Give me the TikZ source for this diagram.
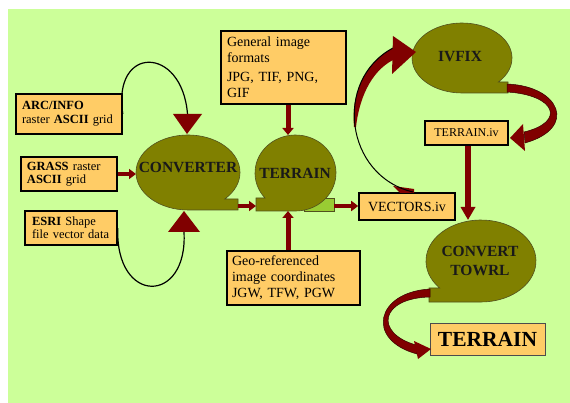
\documentclass[tikz,border=0pt]{standalone}
\usepackage{fontspec}
\setmainfont{Liberation Serif}
\usetikzlibrary{arrows.meta}
\definecolor{bggreen}{RGB}{204,255,153}
\definecolor{boxfill}{RGB}{255,204,102}
\definecolor{olivefill}{RGB}{128,128,0}
\definecolor{darkred}{RGB}{128,0,0}
\definecolor{tailgreen}{RGB}{153,204,51}
\definecolor{oliveline}{RGB}{80,80,30}
\begin{document}
\begin{tikzpicture}[x=1pt,y=-1pt,
 box/.style={draw=black, line width=1.6pt, fill=boxfill, rectangle, inner ysep=0pt, align=left},
 cbox/.style={draw=black, line width=1.6pt, fill=boxfill, rectangle, inner sep=0pt, align=center},
 blob/.style={fill=olivefill, draw=oliveline, line width=0.6pt},
 bloblabel/.style={font=\fontsize{15.5}{18}\selectfont\bfseries, text=black!90, inner sep=0pt},
 fat/.style={draw=darkred, line width=4pt, -{Triangle[width=10pt,length=7pt]}},
 looparc/.style={draw=black, line width=1.2pt},
 band/.style={fill=darkred, draw=black!60!darkred, line width=0.5pt},
 headtri/.style={fill=darkred}]
\useasboundingbox (0,0) rectangle (570,403);
\fill[white] (0,0) rectangle (570,403);
\fill[bggreen] (8,9) rectangle (570,403);

% boxes
\node[box, text width=94pt, inner xsep=6pt, minimum height=40pt, font=\fontsize{12.5}{14}\selectfont] (arc) at (69,114) {\textbf{ARC/INFO}\\raster \textbf{ASCII} grid};
\node[box, text width=84pt, inner xsep=6pt, minimum height=34pt, font=\fontsize{12.5}{13}\selectfont] (grass) at (69,174) {\textbf{GRASS} raster\\\textbf{ASCII} grid};
\node[box, text width=78pt, inner xsep=7pt, minimum height=34pt, font=\fontsize{12.5}{13}\selectfont] (esri) at (71,228) {\textbf{ESRI} Shape\\file vector data};
\node[box, text width=113pt, inner xsep=6pt, minimum height=73pt, font=\fontsize{14}{16}\selectfont] (gen) at (283.5,67.5) {General image\\formats\\[3pt]JPG, TIF, PNG,\\GIF};
\node[box, text width=123pt, inner xsep=5pt, minimum height=54pt, font=\fontsize{14}{16}\selectfont] (geo) at (293.5,278) {Geo-referenced\\image coordinates\\JGW, TFW, PGW};
\node[cbox, minimum width=96pt, minimum height=27pt, font=\fontsize{14}{16}\selectfont] (vec) at (407,206.5) {VECTORS.iv};
\node[cbox, minimum width=83pt, minimum height=24pt, font=\fontsize{12}{14}\selectfont] (tiv) at (466.5,133) {TERRAIN.iv};
\node[cbox, draw=black!70, line width=0.8pt, minimum width=115pt, minimum height=32pt, font=\fontsize{21.5}{24}\selectfont\bfseries] (fin) at (487.5,339) {TERRAIN};

% blobs
\filldraw[fill=tailgreen, draw=oliveline, line width=0.5pt] (304,198) rectangle (334,211);
\path[blob] (188,210) -- (238,210) -- (238,199) -- (224.77,199) arc[start angle=-45, end angle=270, x radius=52pt, y radius=37.5pt] -- cycle;
\path[blob] (295.5,211) -- (256,211) -- (256,198) -- (265,198) arc[start angle=221.14, end angle=-90, x radius=40.5pt, y radius=38pt] -- cycle;
\path[blob] (462,93) -- (508,93) -- (508,82) -- (498.4,82) arc[start angle=-43.29, end angle=270, x radius=50pt, y radius=35pt] -- cycle;
\path[blob] (481,302) -- (429,302) -- (429,288) -- (439.6,288) arc[start angle=221.19, end angle=-90, x radius=55pt, y radius=41pt] -- cycle;

\node[bloblabel] (convlbl) at (188,167) {CONVERTER};
\node[bloblabel] (terlbl) at (295,173) {TERRAIN};
\node[bloblabel] (ivflbl) at (460,57) {IVFIX};
\node[bloblabel, align=center] (cvtlbl) at (480,261) {CONVERT\\[1pt]TOWRL};

% attachment points
\coordinate (convL) at (136,174);
\coordinate (convTail) at (238,206);
\coordinate (terL) at (256,206);
\coordinate (terR) at (334,206);
\coordinate (terTop) at (288,135);
\coordinate (terBot) at (288,211);
\coordinate (cvtTop) at (468,220);
\coordinate (convTopBase) at (187.5,114);
\coordinate (convBotBase) at (184,232);
\coordinate (vecTop) at (413,192);
\coordinate (ivfHead) at (393,48);

% straight arrows
\draw[fat] (grass.east) -- (convL);
\draw[fat] (convTail) -- (terL);
\draw[fat] (terR) -- (vec.west |- terR);
\draw[fat, line width=5pt, -{Triangle[width=11pt,length=7pt]}] (gen.south -| terTop) -- (terTop);
\draw[fat, line width=5pt, -{Triangle[width=11pt,length=7pt]}] (geo.north -| terBot) -- (terBot);
\draw[fat, line width=6pt, -{Triangle[width=14pt,length=13pt]}] (tiv.south -| cvtTop) -- (cvtTop);

% loops into CONVERTER
\draw[looparc] (arc.east) .. controls (112,45) and (182,45) .. (convTopBase);
\fill[headtri] (173,114) -- (202,114) -- (187,134) -- cycle;
\draw[looparc] (esri.east) .. controls (115,305) and (188,305) .. (convBotBase);
\fill[headtri] (168,232) -- (200,232) -- (184,211) -- cycle;

% curved arrow VECTORS.iv -> IVFIX
\fill[darkred] (393,186) -- (414,189) -- (414,193) -- (400,193) -- cycle;
\fill[darkred] (354,126.9) .. controls (351,96.5) and (363,64) .. (393,48) -- (393,60) .. controls (370,72) and (359,100) .. (356,127) -- cycle;
\draw[black, line width=1pt] (vecTop) .. controls (345,176) and (333,80) .. (ivfHead);
\fill[headtri] (393,36) -- (416,52) -- (392,74) -- cycle;

% curved arrow IVFIX -> TERRAIN.iv
\path[band] (507,84) .. controls (560,86) and (578,128) .. (525,143) -- (524,132) .. controls (566,122) and (556,95) .. (507,92) -- cycle;
\fill[headtri] (523,124) -- (510,138) -- (525,151) -- cycle;

% curved arrow CONVERT TOWRL -> TERRAIN
\path[band] (430,289) .. controls (376,292) and (365,340) .. (417,354) -- (416,345) .. controls (374,333) and (380,298) .. (430,297) -- cycle;
\fill[headtri] (414,341) -- (431,349) -- (418,359) -- cycle;
\end{tikzpicture}
\end{document}
